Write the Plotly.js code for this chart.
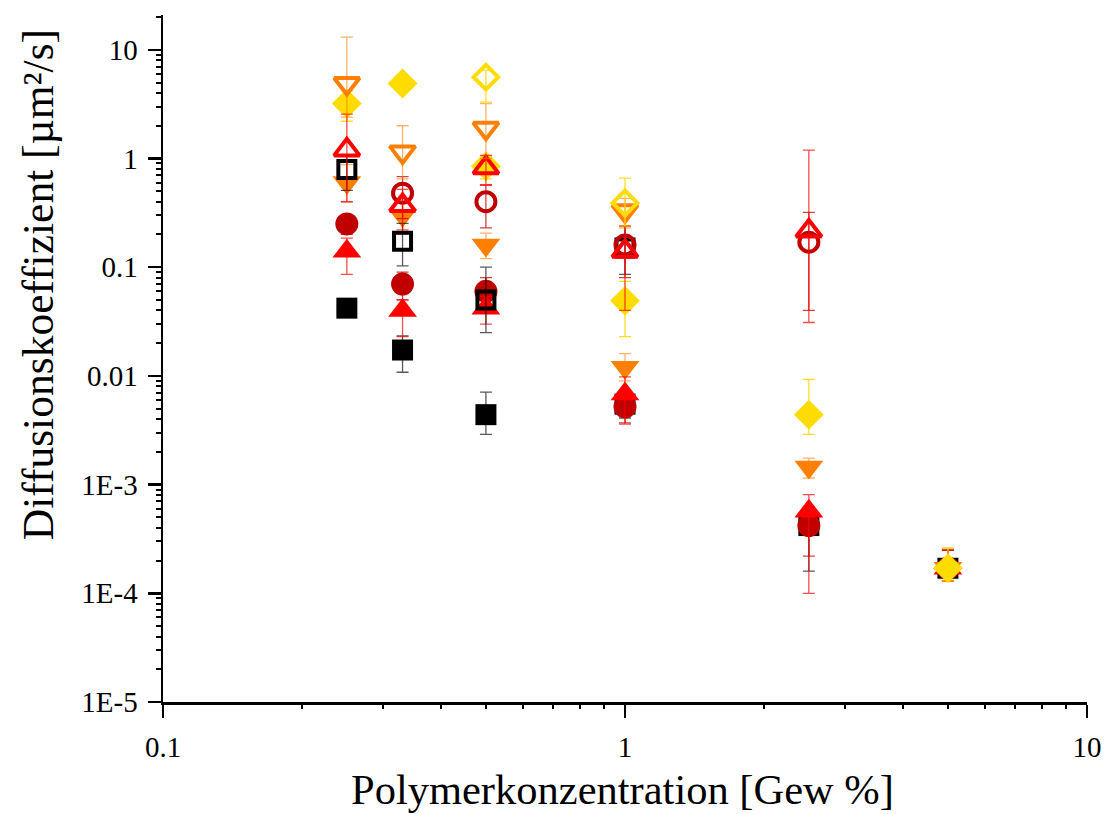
<!DOCTYPE html>
<html>
<head>
<meta charset="utf-8">
<script src="https://cdn.plot.ly/plotly-3.0.1.min.js"></script>
<style>
  html, body { margin: 0; padding: 0; background: #ffffff; }
  #chart { width: 1105px; height: 814px; }
</style>
</head>
<body>
<div id="chart"></div>
<script>
// ---- Data ----
const concAll = [0.25, 0.33, 0.5, 1, 2.5, 5];

// Filled symbols
const blackFilledY      = [0.042, 0.0173, 0.0044, 0.0055, 0.00042, 0.00017];
const blackFilledPlus   = [0.004, 0.006, 0.0027, 0.0015, 0.0002, 0.00008];
const blackFilledMinus  = [0.004, 0.0065, 0.0015, 0.0014, 0.00026, 0.00004];

const darkredFilledY     = [0.25, 0.070, 0.060, 0.0052, 0.00042, 0.00017];
const darkredFilledPlus  = [0.05, 0.02, 0.02, 0.0015, 0.0002, 0.00008];
const darkredFilledMinus = [0.05, 0.02, 0.02, 0.0015, 0.0002, 0.00004];

const redFilledY     = [0.14, 0.040, 0.042, 0.0068, 0.00057, 0.00017];
const redFilledPlus  = [0.045, 0.01, 0.012, 0.003, 0.00024, 0.00008];
const redFilledMinus = [0.054, 0.017, 0.012, 0.0032, 0.00047, 0.00004];

const orangeFilledY     = [0.6, 0.30, 0.16, 0.012, 0.00145, 0.00017];
const orangeFilledPlus  = [0.28, 0.1, 0.046, 0.004, 0.0003, 0.00009];
const orangeFilledMinus = [0.2, 0.1, 0.04, 0.003, 0.0003, 0.00004];

const yellowFilledY     = [3.2, 4.9, 0.85, 0.049, 0.0044, 0.00017];
const yellowFilledPlus  = [1.0, 0.5, 0.2, 0.025, 0.0049, 0.00009];
const yellowFilledMinus = [1.0, 0.5, 0.2, 0.026, 0.0015, 0.00004];

// Open symbols
const blackOpenX     = [0.25, 0.33, 0.5, 1];
const blackOpenY     = [0.79, 0.173, 0.05, 0.15];
const blackOpenPlus  = [0.28, 0.08, 0.05, 0.09];
const blackOpenMinus = [0.28, 0.07, 0.025, 0.064];

const darkredOpenX     = [0.33, 0.5, 1, 2.5];
const darkredOpenY     = [0.48, 0.40, 0.16, 0.17];
const darkredOpenPlus  = [0.2, 0.17, 0.08, 0.15];
const darkredOpenMinus = [0.2, 0.17, 0.08, 0.13];

const redOpenX     = [0.25, 0.33, 0.5, 1, 2.5];
const redOpenY     = [1.2, 0.37, 0.82, 0.14, 0.215];
const redOpenPlus  = [1.36, 0.15, 0.25, 0.1, 0.98];
const redOpenMinus = [0.8, 0.15, 0.25, 0.1, 0.184];

const orangeOpenX     = [0.25, 0.33, 0.5, 1];
const orangeOpenY     = [4.9, 1.15, 1.9, 0.33];
const orangeOpenPlus  = [8.2, 0.85, 1.3, 0.1];
const orangeOpenMinus = [2.5, 0.5, 0.9, 0.1];

const yellowOpenX     = [0.5, 1];
const yellowOpenY     = [5.6, 0.39];
const yellowOpenPlus  = [0.9, 0.27];
const yellowOpenMinus = [2.3, 0.15];

const xTickVals = [0.1, 1, 10];
const xTickText = ['0.1', '1', '10'];
const yTickVals = [1e-5, 1e-4, 1e-3, 0.01, 0.1, 1, 10];
const yTickText = ['1E-5', '1E-4', '1E-3', '0.01', '0.1', '1', '10'];

// minor tick positions: digits 2..9 within each decade
const minorDigits = [2, 3, 4, 5, 6, 7, 8, 9];
const xDecades = [0.1, 1];
const yDecades = [1e-5, 1e-4, 1e-3, 0.01, 0.1, 1, 10];
const xMinor = [];
xDecades.forEach(d => minorDigits.forEach(m => xMinor.push(d * m)));
const yMinor = [];
yDecades.forEach(d => minorDigits.forEach(m => yMinor.push(d * m)));

// ---- Styles ----
const C_BLACK = '#000000', C_DARKRED = '#C00000', C_RED = '#FF0000',
      C_ORANGE = '#FF8000', C_YELLOW = '#FFDC00';
const ERR_BLACK = 'rgba(0,0,0,0.65)', ERR_DARKRED = 'rgba(192,0,0,0.75)',
      ERR_RED = 'rgba(255,0,0,0.7)', ERR_ORANGE = 'rgba(255,128,0,0.6)',
      ERR_YELLOW = 'rgba(255,215,0,0.85)';

function trace(x, y, plus, minus, symbol, size, color, errColor, open) {
  return {
    type: 'scatter', mode: 'markers', x: x, y: y,
    marker: {
      symbol: symbol, size: size, color: color,
      line: { color: color, width: open ? 4 : 0 }
    },
    error_y: {
      type: 'data', symmetric: false, array: plus, arrayminus: minus,
      color: errColor, thickness: 1.3, width: 6
    },
    hoverinfo: 'x+y', showlegend: false
  };
}

const data = [
  trace(concAll, blackFilledY, blackFilledPlus, blackFilledMinus, 'square', 21, C_BLACK, ERR_BLACK, false),
  trace(concAll, darkredFilledY, darkredFilledPlus, darkredFilledMinus, 'circle', 23, C_DARKRED, ERR_DARKRED, false),
  trace(concAll, orangeFilledY, orangeFilledPlus, orangeFilledMinus, 'triangle-down', 25, C_ORANGE, ERR_ORANGE, false),
  trace(concAll, redFilledY, redFilledPlus, redFilledMinus, 'triangle-up', 25, C_RED, ERR_RED, false),
  trace(concAll, yellowFilledY, yellowFilledPlus, yellowFilledMinus, 'diamond', 23, C_YELLOW, ERR_YELLOW, false),
  trace(blackOpenX, blackOpenY, blackOpenPlus, blackOpenMinus, 'square-open', 17, C_BLACK, ERR_BLACK, true),
  trace(darkredOpenX, darkredOpenY, darkredOpenPlus, darkredOpenMinus, 'circle-open', 19, C_DARKRED, ERR_DARKRED, true),
  trace(redOpenX, redOpenY, redOpenPlus, redOpenMinus, 'triangle-up-open', 22, C_RED, ERR_RED, true),
  trace(orangeOpenX, orangeOpenY, orangeOpenPlus, orangeOpenMinus, 'triangle-down-open', 22, C_ORANGE, ERR_ORANGE, true),
  trace(yellowOpenX, yellowOpenY, yellowOpenPlus, yellowOpenMinus, 'diamond-open', 19, C_YELLOW, ERR_YELLOW, true),
  // carrier for the minor-tick overlay axes (no visible marks)
  { type: 'scatter', mode: 'markers', x: [null], y: [null], xaxis: 'x2', yaxis: 'y2',
    hoverinfo: 'skip', showlegend: false }
];

const FONT = 'Liberation Serif, Times New Roman, serif';
const X_RANGE = [-1, 1];
const Y_RANGE = [-5, 1.32];

const layout = {
  width: 1105, height: 814,
  margin: { l: 163, r: 18, t: 15, b: 112 },
  paper_bgcolor: '#ffffff', plot_bgcolor: '#ffffff',
  font: { family: FONT, color: '#000000', size: 28 },
  showlegend: false,
  xaxis: {
    type: 'log', range: X_RANGE,
    tickvals: xTickVals, ticktext: xTickText,
    ticks: 'outside', ticklen: 13, tickwidth: 2.5, tickcolor: '#000',
    showline: true, linewidth: 2.5, linecolor: '#000', mirror: false,
    showgrid: false, zeroline: false,
    tickfont: { family: FONT, size: 29, color: '#000' },
    ticklabelstandoff: 5
  },
  yaxis: {
    type: 'log', range: Y_RANGE,
    tickvals: yTickVals, ticktext: yTickText,
    ticks: 'outside', ticklen: 13, tickwidth: 2.5, tickcolor: '#000',
    showline: true, linewidth: 2.5, linecolor: '#000', mirror: false,
    showgrid: false, zeroline: false,
    tickfont: { family: FONT, size: 29, color: '#000' },
    ticklabelstandoff: 4
  },
  xaxis2: {
    type: 'log', range: X_RANGE, overlaying: 'x', anchor: 'y', side: 'bottom',
    tickvals: xMinor, showticklabels: false,
    ticks: 'outside', ticklen: 6, tickwidth: 2, tickcolor: '#000',
    showline: false, showgrid: false, zeroline: false
  },
  yaxis2: {
    type: 'log', range: Y_RANGE, overlaying: 'y', anchor: 'x', side: 'left',
    tickvals: yMinor, showticklabels: false,
    ticks: 'outside', ticklen: 6, tickwidth: 2, tickcolor: '#000',
    showline: false, showgrid: false, zeroline: false
  },
  annotations: [
    {
      text: 'Polymerkonzentration [Gew %]', xref: 'paper', yref: 'paper',
      x: 0.4975, y: -0.128, xanchor: 'center', yanchor: 'middle', showarrow: false,
      font: { family: FONT, size: 42.5, color: '#000' }
    },
    {
      text: 'Diffusionskoeffizient [µm²/s]', xref: 'paper', yref: 'paper',
      x: -0.135, y: 0.607, xanchor: 'center', yanchor: 'middle', textangle: -90, showarrow: false,
      font: { family: FONT, size: 43.5, color: '#000' }
    }
  ]
};

Plotly.newPlot('chart', data, layout, { staticPlot: true, displayModeBar: false });
</script>
</body>
</html>
